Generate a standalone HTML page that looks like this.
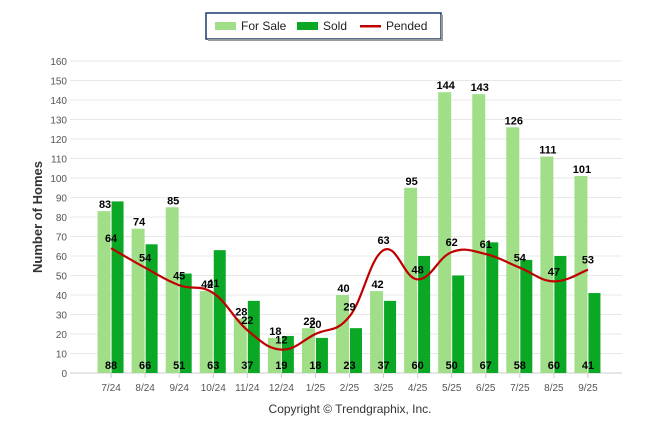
<!DOCTYPE html>
<html><head><meta charset="utf-8"><style>
body{margin:0;background:#fff;font-family:"Liberation Sans",Arial,sans-serif}
</style></head><body>
<svg id="c" width="646" height="434" xmlns="http://www.w3.org/2000/svg">
<g>
<rect x="206" y="13" width="235" height="26" fill="#fff" stroke="#1f3a6e" stroke-width="1.5"/>
<rect x="441" y="15" width="2" height="26" fill="#999"/><rect x="208" y="39" width="235" height="2" fill="#999"/>
<g><rect x="215" y="22" width="21" height="8" fill="#a0df88"/><text x="241" y="30" font-size="12" fill="#222">For Sale</text></g>
<g><rect x="297" y="22" width="21" height="8" fill="#0ba825"/><text x="323" y="30" font-size="12" fill="#222">Sold</text></g>
<g><rect x="360" y="25" width="21" height="2.5" fill="#c00000"/><text x="386" y="30" font-size="12" fill="#222">Pended</text></g>
</g>
<text transform="translate(42,217) rotate(-90)" text-anchor="middle" font-size="13" font-weight="bold" fill="#333">Number of Homes</text>
<text x="350" y="413" text-anchor="middle" font-size="12" fill="#333">Copyright © Trendgraphix, Inc.</text>
<g id="grid"></g><g id="bars"></g><g id="line"></g><g id="labels"></g>
</svg>
<script>
const categories=["7/24","8/24","9/24","10/24","11/24","12/24","1/25","2/25","3/25","4/25","5/25","6/25","7/25","8/25","9/25"];
const forSale=[83,74,85,42,28,18,23,40,42,95,144,143,126,111,101];
const sold=[88,66,51,63,37,19,18,23,37,60,50,67,58,60,41];
const pended=[64,54,45,41,22,12,20,29,63,48,62,61,54,47,53];
const yTicks=[0,10,20,30,40,50,60,70,80,90,100,110,120,130,140,150,160];
const NS="http://www.w3.org/2000/svg";
const y0=373,y160=61,left=77,right=622;
const band=(right-left)/16;
const y=v=>y0-(v/160)*(y0-y160);
const xc=i=>left+band*(i+1);
function mk(p,t,a){const e=document.createElementNS(NS,t);for(const k in a)e.setAttribute(k,a[k]);document.getElementById(p).appendChild(e);return e;}
yTicks.forEach(t=>{
 const l=mk('grid','line',{x1:70,x2:right,y1:y(t),y2:y(t),stroke:t?"#e8e8e8":"#ccc","stroke-width":1});
 
 
 const tx=mk('grid','text',{x:67,y:y(t)+4,"text-anchor":"end","font-size":"10",fill:"#555"});tx.textContent=t;
 
 
});
const bw=13;
categories.forEach((c,i)=>{
 const x=xc(i);
 const tk=mk('grid','line',{x1:x,x2:x,y1:y0,y2:y0+5,stroke:"#ccc"});
 
 
 const tx=mk('labels','text',{x:x,y:391,"text-anchor":"middle","font-size":"10",fill:"#555"});tx.textContent=c;
 
 
 const a=mk('bars','rect',{x:x-bw-0.5,y:y(forSale[i]),width:bw,height:y0-y(forSale[i]),fill:"#a0df88"});
 
 
 const b=mk('bars','rect',{x:x+0.5,y:y(sold[i]),width:bw-1,height:y0-y(sold[i]),fill:"#0ba825"});
 
 
 const l1=mk('labels','text',{x:x-6,y:y(forSale[i])-3,"text-anchor":"middle","font-size":"11","font-weight":"bold",fill:"#000"});l1.textContent=forSale[i];
 
 
 const l2=mk('labels','text',{x:x,y:369,"text-anchor":"middle","font-size":"11","font-weight":"bold",fill:"#000"});l2.textContent=sold[i];
 
 
 const l3=mk('labels','text',{x:x,y:y(pended[i])-6,"text-anchor":"middle","font-size":"11","font-weight":"bold",fill:"#000"});l3.textContent=pended[i];
 
 
});
// smooth line (monotone-ish cardinal)
const pts=pended.map((v,i)=>[xc(i),y(v)]);
let d="M"+pts[0][0]+","+pts[0][1];
for(let i=0;i<pts.length-1;i++){
 const p0=pts[Math.max(0,i-1)],p1=pts[i],p2=pts[i+1],p3=pts[Math.min(pts.length-1,i+2)];
 const t=0.2;
 const c1=[p1[0]+(p2[0]-p0[0])*t,p1[1]+(p2[1]-p0[1])*t];
 const c2=[p2[0]-(p3[0]-p1[0])*t,p2[1]-(p3[1]-p1[1])*t];
 d+=` C${c1[0]},${c1[1]} ${c2[0]},${c2[1]} ${p2[0]},${p2[1]}`;
}
const pl=mk('line','path',{d:d,fill:"none",stroke:"#c00000","stroke-width":2.2});


</script>
</body></html>
